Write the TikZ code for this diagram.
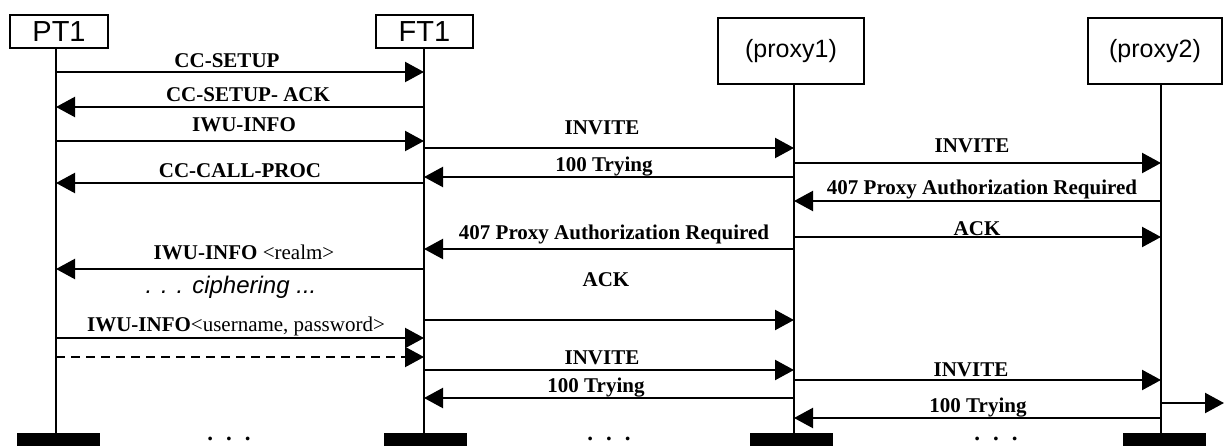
\documentclass[tikz,border=0pt]{standalone}
\usepackage{fontspec}
\setmainfont{Liberation Serif}
\newfontfamily\hdfont{Liberation Sans}
\usetikzlibrary{arrows.meta}
\tikzset{
  hdbox/.style={draw, line width=1.8pt, inner sep=0pt, font=\hdfont\fontsize{29}{32}\selectfont},
  pxbox/.style={draw, line width=1.8pt, inner sep=0pt, font=\hdfont\fontsize{25}{28}\selectfont},
  life/.style={line width=1.8pt},
  msgarrow/.style={line width=2.2pt, -{Triangle[length=19pt,width=20pt]}},
  lbl/.style={anchor=base, inner sep=0pt, font=\bfseries\fontsize{21}{24}\selectfont},
  endbar/.style={fill=black, draw=none, minimum width=83pt, minimum height=14pt, inner sep=0pt, anchor=north},
  dots/.style={anchor=base, inner sep=0pt, font=\bfseries\fontsize{23}{25}\selectfont},
}
\begin{document}
\begin{tikzpicture}[x=1pt,y=-1pt]
\useasboundingbox (0,0) rectangle (1224,446);
% header boxes
\node[hdbox, minimum width=98pt, minimum height=33pt] (pt) at (59,31.5) {PT1};
\node[hdbox, minimum width=97pt, minimum height=33pt] (ft) at (424.5,31.5) {FT1};
\node[pxbox, minimum width=146pt, minimum height=66pt] (p1) at (791,51) {(proxy1)};
\node[pxbox, minimum width=134pt, minimum height=66pt] (p2) at (1155,51) {(proxy2)};
% end bars
\node[endbar] (bpt) at (58.5,432.5) {};
\node[endbar] (bft) at (425,432.5) {};
\node[endbar] (bp1) at (791.5,432.5) {};
\node[endbar] (bp2) at (1164,432.5) {};
% lifelines
\coordinate (ptt) at (56,48); \coordinate (ptb) at (56,433);
\coordinate (ftt) at (424,48); \coordinate (ftb) at (424,433);
\coordinate (p1t) at (794,84); \coordinate (p1b) at (794,433);
\coordinate (p2t) at (1161,84); \coordinate (p2b) at (1161,433);
\draw[life] (ptt) -- (ptb);
\draw[life] (ftt) -- (ftb);
\draw[life] (p1t) -- (p1b);
\draw[life] (p2t) -- (p2b);
% dots
\node[dots] (d1) at (229,440.5) {.\hspace{13pt}.\hspace{13pt}.};
\node[dots] (d2) at (609,440.5) {.\hspace{13pt}.\hspace{13pt}.};
\node[dots] (d3) at (996,440.5) {.\hspace{13pt}.\hspace{13pt}.};
% message end points
\foreach \n/\y in {1/72,2/107,3/141,6/183,11/269,13/338,14/357}{
  \coordinate (pt\n) at (56,\y); \coordinate (ft\n) at (424,\y);}
\foreach \n/\y in {4/148,5/177,10/249,12/320,15/370,17/398}{
  \coordinate (fa\n) at (424,\y); \coordinate (pa\n) at (794,\y);}
\foreach \n/\y in {7/163,8/201,9/237,16/380,19/418}{
  \coordinate (pb\n) at (794,\y); \coordinate (pc\n) at (1161,\y);}
\coordinate (q18) at (1161,403); \coordinate (out18) at (1224,403);
% PT1 <-> FT1
\draw[msgarrow] (pt1) -- (ft1);
\node[lbl] (l1) at (227,68) {CC-SETUP};
\draw[msgarrow] (ft2) -- (pt2);
\node[lbl] (l2) at (248,102) {CC-SETUP- ACK};
\draw[msgarrow] (pt3) -- (ft3);
\node[lbl] (l3) at (244,132) {IWU-INFO};
\draw[msgarrow] (ft6) -- (pt6);
\node[lbl] (l6) at (240,178) {CC-CALL-PROC};
\draw[msgarrow] (ft11) -- (pt11);
\node[lbl] (l11) at (244,260) {IWU-INFO \mdseries\textless realm\textgreater};
\node[anchor=base, inner sep=0pt, font=\hdfont\itshape\fontsize{24}{27}\selectfont] (ciph) at (231,294) {. . . ciphering ...};
\draw[msgarrow] (pt13) -- (ft13);
\node[lbl] (l13) at (236,332) {IWU-INFO\mdseries\textless username, password\textgreater};
\draw[msgarrow, dash pattern=on 9pt off 6pt] (pt14) -- (ft14);
% FT1 <-> proxy1
\draw[msgarrow] (fa4) -- (pa4);
\node[lbl] (l4) at (602,135) {INVITE};
\draw[msgarrow] (pa5) -- (fa5);
\node[lbl] (l5) at (604,172) {100 Trying};
\draw[msgarrow] (pa10) -- (fa10);
\node[lbl] (l10) at (614,240) {407 Proxy Authorization Required};
\node[lbl] (lack) at (606,287) {ACK};
\draw[msgarrow] (fa12) -- (pa12);
\draw[msgarrow] (fa15) -- (pa15);
\node[lbl] (l15) at (602,364) {INVITE};
\draw[msgarrow] (pa17) -- (fa17);
\node[lbl] (l17) at (596,392) {100 Trying};
% proxy1 <-> proxy2
\draw[msgarrow] (pb7) -- (pc7);
\node[lbl] (l7) at (972,153) {INVITE};
\draw[msgarrow] (pc8) -- (pb8);
\node[lbl] (l8) at (982,195) {407 Proxy Authorization Required};
\draw[msgarrow] (pb9) -- (pc9);
\node[lbl] (l9) at (977,236) {ACK};
\draw[msgarrow] (pb16) -- (pc16);
\node[lbl] (l16) at (971,377) {INVITE};
\draw[msgarrow] (pc19) -- (pb19);
\node[lbl] (l19) at (978,412) {100 Trying};
\draw[msgarrow] (q18) -- (out18);
\end{tikzpicture}
\end{document}
